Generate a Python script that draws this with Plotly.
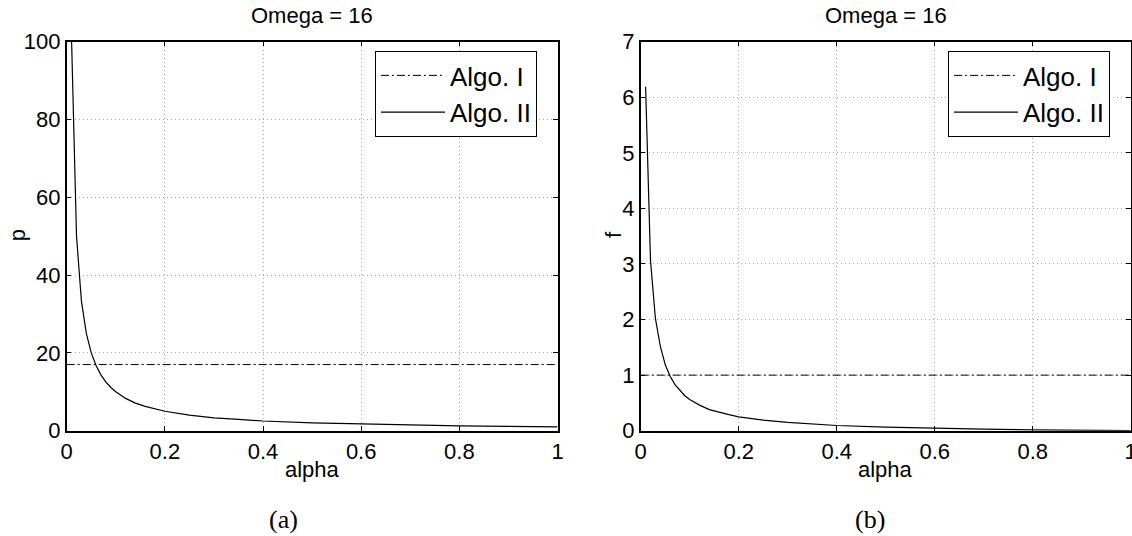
import plotly.graph_objects as go

# ---- data ----
alpha = [0.01, 0.02, 0.03, 0.04, 0.05, 0.06, 0.07, 0.08, 0.09, 0.10,
         0.12, 0.14, 0.16, 0.18, 0.20, 0.25, 0.30, 0.35, 0.40, 0.50,
         0.60, 0.70, 0.80, 0.90, 1.00]
p_algo2 = [100, 50, 33.3, 25, 20, 16.7, 14.3, 12.5, 11.1, 10,
           8.3, 7.1, 6.25, 5.6, 5.0, 4.0, 3.3, 2.9, 2.5, 2.0,
           1.7, 1.4, 1.25, 1.1, 1.0]
f_algo2 = [6.19, 3.06, 2.02, 1.52, 1.19, 0.98, 0.83, 0.72, 0.63, 0.56,
           0.46, 0.38, 0.33, 0.29, 0.25, 0.19, 0.15, 0.12, 0.094, 0.063,
           0.042, 0.027, 0.016, 0.007, 0.0]
alpha_const = [0.0, 1.0]
p_algo1 = [17, 17]
f_algo1 = [1, 1]

x_ticks = [0, 0.2, 0.4, 0.6, 0.8, 1]
x_ticklabels = ["0", "0.2", "0.4", "0.6", "0.8", "1"]
p_ticks = [0, 20, 40, 60, 80, 100]
f_ticks = [0, 1, 2, 3, 4, 5, 6, 7]
title_text = "Omega = 16"

W, H = 1132, 536
FONT = "Liberation Sans, Arial, Helvetica, sans-serif"
SERIF = "Liberation Serif, DejaVu Serif, serif"
DASHDOT = "8px,3px,2px,3px"

fig = go.Figure()

fig.add_trace(go.Scatter(x=alpha_const, y=p_algo1, mode="lines", name="Algo. I",
                         line=dict(color="black", width=1, dash=DASHDOT),
                         xaxis="x", yaxis="y", legend="legend"))
fig.add_trace(go.Scatter(x=alpha, y=p_algo2, mode="lines", name="Algo. II",
                         line=dict(color="black", width=1.2),
                         xaxis="x", yaxis="y", legend="legend"))
fig.add_trace(go.Scatter(x=alpha_const, y=f_algo1, mode="lines", name="Algo. I",
                         line=dict(color="black", width=1, dash=DASHDOT),
                         xaxis="x2", yaxis="y2", legend="legend2"))
fig.add_trace(go.Scatter(x=alpha, y=f_algo2, mode="lines", name="Algo. II",
                         line=dict(color="black", width=1.2),
                         xaxis="x2", yaxis="y2", legend="legend2"))

ydom = [1 - 430.7 / H, 1 - 41.7 / H]
axis_common = dict(showline=True, linecolor="black", linewidth=1.5, mirror="ticks",
                   ticks="inside", ticklen=5, tickwidth=1, tickcolor="black",
                   showgrid=True, gridcolor="#a8a8a8", gridwidth=1, griddash="1px,3px",
                   zeroline=False, tickfont=dict(family=FONT, size=22, color="black"),
                   ticklabeloverflow="allow", automargin=False)

legend_common = dict(xanchor="left", yanchor="top", bgcolor="white",
                     bordercolor="black", borderwidth=1, itemwidth=64,
                     font=dict(family=FONT, size=26, color="black"), tracegroupgap=0)

fig.update_layout(
    width=W, height=H,
    margin=dict(l=0, r=0, t=0, b=0),
    paper_bgcolor="white", plot_bgcolor="white",
    font=dict(family=FONT, color="black"),
    xaxis=dict(domain=[66.7 / W, 557.5 / W], range=[0, 1], anchor="y",
               tickvals=x_ticks, ticktext=x_ticklabels, **axis_common),
    yaxis=dict(domain=ydom, range=[0, 100], anchor="x", tickvals=p_ticks, **axis_common),
    xaxis2=dict(domain=[640.7 / W, 1130.7 / W], range=[0, 1], anchor="y2",
                tickvals=x_ticks, ticktext=x_ticklabels, **axis_common),
    yaxis2=dict(domain=ydom, range=[0, 7], anchor="x2", tickvals=f_ticks, **axis_common),
    legend=dict(x=375 / W, y=1 - 51 / H, **legend_common),
    legend2=dict(x=948 / W, y=1 - 51 / H, **legend_common),
    showlegend=True,
)

def ann(text, px, py, size=22, angle=0, family=FONT):
    fig.add_annotation(text=text, x=px / W, y=1 - py / H, xref="paper", yref="paper",
                       showarrow=False, xanchor="center", yanchor="middle",
                       textangle=angle, font=dict(family=family, size=size, color="black"))

ann(title_text, 312, 15)
ann(title_text, 885.7, 15)
ann("alpha", 312, 469)
ann("alpha", 885.7, 469)
ann("p", 17.3, 235, angle=-90)
ann("f", 613, 235, angle=-90)
ann("(a)", 283, 519, size=26, family=SERIF)
ann("(b)", 870, 519, size=26, family=SERIF)

fig.write_html("out.html", config={"displayModeBar": False},
               post_script="document.body.style.margin='0';")
